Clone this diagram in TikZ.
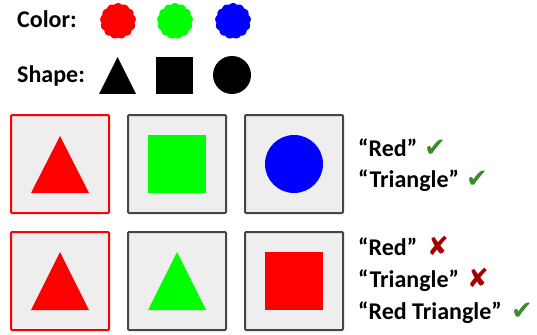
\documentclass[tikz,border=0pt]{standalone}
\usepackage{fontspec}
\setmainfont{Carlito}
\newfontfamily\marksfont{DejaVu Sans}
\usetikzlibrary{shapes.symbols}

\definecolor{tilegray}{HTML}{EEEEEE}
\definecolor{tileedge}{HTML}{464646}
\definecolor{okgreen}{HTML}{3C8A2C}
\definecolor{badred}{HTML}{A30000}
\definecolor{brightgreen}{HTML}{00FF00}

\begin{document}
\begin{tikzpicture}[
    x=1pt, y=-1pt,
    tile/.style={
        draw=tileedge,
        line width=2pt,
        fill=tilegray,
        rounded corners=1pt,
        minimum size=98pt,
        inner sep=0pt
    },
    picked/.style={tile, draw=red},
    caption/.style={
        anchor=base west,
        inner sep=0pt,
        font=\fontsize{24}{28}\selectfont\bfseries
    },
    blob/.style={
        cloud, cloud puffs=13, cloud puff arc=100, aspect=1,
        minimum size=36pt, inner sep=0pt
    },
    tick/.style={
        anchor=base west,
        inner sep=0pt,
        text=okgreen,
        font=\marksfont\fontsize{26}{30}\selectfont
    },
    cross/.style={tick, text=badred}
]
    \useasboundingbox (0,0) rectangle (537,334);

    % legend
    \node[caption] (colorlbl) at (17,28) {Color:};
    \node[caption] (shapelbl) at (17,83) {Shape:};

    \node[blob, fill=red] (redblob) at (118,21) {};
    \node[blob, fill=brightgreen] (greenblob) at (175,21) {};
    \node[blob, fill=blue] (blueblob) at (233,21) {};

    \fill[black] (99,94) -- (117.5,57) -- (136,94) -- cycle;
    \node[fill=black, minimum size=37pt, inner sep=0pt] (keysquare) at (174,75.5) {};
    \node[circle, fill=black, minimum size=38pt, inner sep=0pt] (keycircle) at (232,75) {};

    % first row
    \node[picked] (tileA) at (60,164) {};
    \node[tile] (tileB) at (177,164) {};
    \node[tile] (tileC) at (294,164) {};

    \fill[red, shift={(tileA.center)}] (-29,29) -- (0,-28) -- (29,29) -- cycle;
    \node[fill=brightgreen, minimum size=58pt, inner sep=0pt] (sqB) at (tileB) {};
    \node[circle, fill=blue, minimum size=58pt, inner sep=0pt] (circC) at (tileC) {};

    \node[caption] (redA) at (358,156) {“Red”};
    \node[caption] (triA) at (358,187) {“Triangle”};
    \node[tick] (okredA) at (424,156) {✔};
    \node[tick] (oktriA) at (466,187) {✔};

    % second row
    \node[picked] (tileD) at (60,281) {};
    \node[tile] (tileE) at (177,281) {};
    \node[tile] (tileF) at (294,281) {};

    \fill[red, shift={(tileD.center)}] (-29,29) -- (0,-29) -- (29,29) -- cycle;
    \fill[brightgreen, shift={(tileE.center)}] (-29,29) -- (0,-29) -- (29,29) -- cycle;
    \node[fill=red, minimum size=58pt, inner sep=0pt] (sqF) at (tileF) {};

    \node[caption] (redD) at (358,255) {“Red”};
    \node[caption] (triD) at (358,287) {“Triangle”};
    \node[caption] (bothD) at (358,319) {“Red Triangle”};
    \node[cross] (noredD) at (427,255) {✘};
    \node[cross] (notriD) at (467,287) {✘};
    \node[tick] (okbothD) at (511,319) {✔};
\end{tikzpicture}
\end{document}
